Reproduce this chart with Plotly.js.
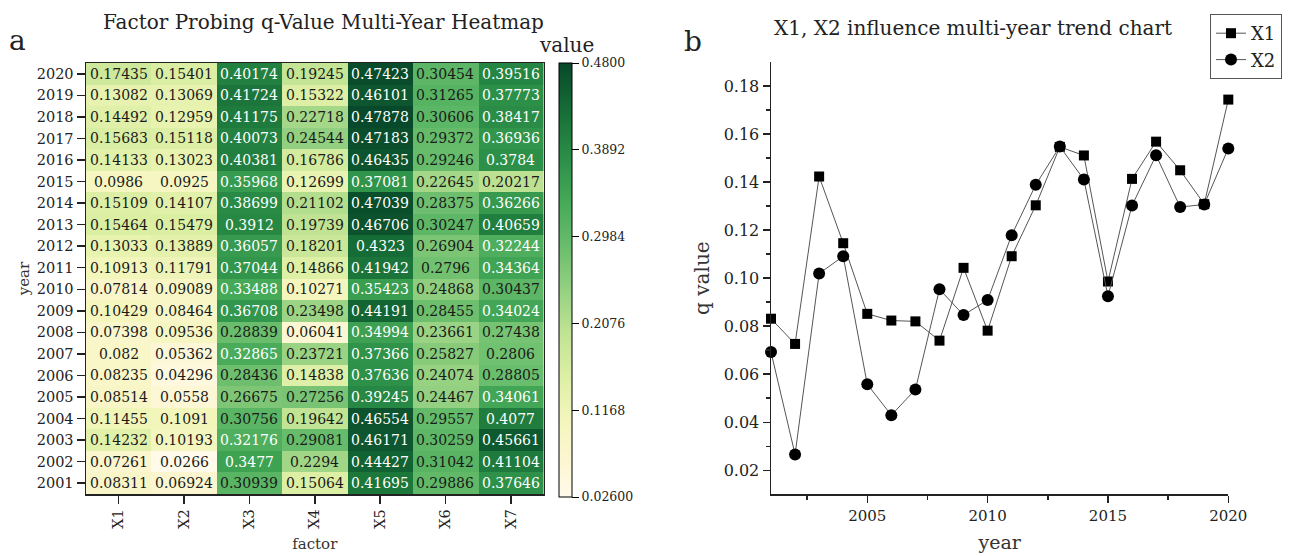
<!DOCTYPE html>
<html>
<head>
<meta charset="utf-8">
<script src="https://cdn.plot.ly/plotly-3.0.1.min.js"></script>
<style>html,body{margin:0;padding:0;background:#fff;}#chart{width:1293px;height:556px;}</style>
</head>
<body>
<div id="chart"></div>
<script>
// ---------- data ----------
const factors = ["X1","X2","X3","X4","X5","X6","X7"];
const years = [2001,2002,2003,2004,2005,2006,2007,2008,2009,2010,2011,2012,2013,2014,2015,2016,2017,2018,2019,2020];
const X1 = [0.08311,0.07261,0.14232,0.11455,0.08514,0.08235,0.082,0.07398,0.10429,0.07814,0.10913,0.13033,0.15464,0.15109,0.0986,0.14133,0.15683,0.14492,0.13082,0.17435];
const X2 = [0.06924,0.0266,0.10193,0.1091,0.0558,0.04296,0.05362,0.09536,0.08464,0.09089,0.11791,0.13889,0.15479,0.14107,0.0925,0.13023,0.15118,0.12959,0.13069,0.15401];
const X3 = [0.30939,0.3477,0.32176,0.30756,0.26675,0.28436,0.32865,0.28839,0.36708,0.33488,0.37044,0.36057,0.3912,0.38699,0.35968,0.40381,0.40073,0.41175,0.41724,0.40174];
const X4 = [0.15064,0.2294,0.29081,0.19642,0.27256,0.14838,0.23721,0.06041,0.23498,0.10271,0.14866,0.18201,0.19739,0.21102,0.12699,0.16786,0.24544,0.22718,0.15322,0.19245];
const X5 = [0.41695,0.44427,0.46171,0.46554,0.39245,0.37636,0.37366,0.34994,0.44191,0.35423,0.41942,0.4323,0.46706,0.47039,0.37081,0.46435,0.47183,0.47878,0.46101,0.47423];
const X6 = [0.29886,0.31042,0.30259,0.29557,0.24467,0.24074,0.25827,0.23661,0.28455,0.24868,0.2796,0.26904,0.30247,0.28375,0.22645,0.29246,0.29372,0.30606,0.31265,0.30454];
const X7 = [0.37646,0.41104,0.45661,0.4077,0.34061,0.28805,0.2806,0.27438,0.34024,0.30437,0.34364,0.32244,0.40659,0.36266,0.20217,0.3784,0.36936,0.38417,0.37773,0.39516];
const colorbarTickVals = [0.48,0.3892,0.2984,0.2076,0.1168,0.026];
const colorbarTickText = ["0.4800","0.3892","0.2984","0.2076","0.1168","0.02600"];

// ---------- helpers ----------
const W = 1293, H = 556;
const px = x => x / W;
const py = y => 1 - y / H;
const FONT = "DejaVu Serif, Liberation Serif, serif";

const columns = [X1,X2,X3,X4,X5,X6,X7];
const z = years.map((yr, i) => columns.map(c => c[i]));

const colorscale = [
  [0.00,'#fffaea'],[0.08,'#fdf6d2'],[0.18,'#f3f6bc'],[0.28,'#dcefa4'],
  [0.38,'#bfe393'],[0.48,'#94d081'],[0.58,'#68bd6c'],[0.68,'#45a958'],
  [0.78,'#2c8f48'],[0.88,'#187138'],[1.00,'#07482a']
];

const heat = {
  type: 'heatmap',
  x: factors, y: years, z: z,
  zmin: 0.026, zmax: 0.48,
  colorscale: colorscale,
  xaxis: 'x', yaxis: 'y',
  colorbar: {
    x: px(559), xanchor: 'left', xref: 'paper',
    y: py(497), yanchor: 'bottom', yref: 'paper',
    len: 434, lenmode: 'pixels',
    thickness: 13,
    outlinewidth: 1, outlinecolor: '#000',
    tickvals: colorbarTickVals, ticktext: colorbarTickText,
    ticks: 'outside', ticklen: 7, tickcolor: '#000',
    tickfont: {family: FONT, size: 12.5, color: '#222'},
    xpad: 0, ypad: 0
  }
};

const annotations = [];
years.forEach((yr, i) => {
  factors.forEach((f, j) => {
    const v = columns[j][i];
    annotations.push({
      x: f, y: yr, xref: 'x', yref: 'y', text: String(v), showarrow: false,
      xanchor: 'center', yanchor: 'middle',
      font: {family: FONT, size: 14, color: v >= 0.315 ? '#ffffff' : '#1a1a1a'}
    });
  });
});

function label(x, y, text, size) {
  annotations.push({xref:'paper', yref:'paper', x: px(x), y: py(y), text: text, showarrow:false,
    xanchor:'center', yanchor:'middle', font:{family:FONT, size:size, color:'#222'}});
}
label(17, 40, 'a', 28);
label(693, 42, 'b', 28);
label(323, 22, 'Factor Probing q-Value Multi-Year Heatmap', 20);
label(973, 28, 'X1, X2 influence multi-year trend chart', 20);
label(566, 45, 'value', 20);

const lineX1 = {
  type: 'scatter', mode: 'lines+markers', name: 'X1',
  x: years, y: X1, xaxis: 'x2', yaxis: 'y2',
  line: {color: '#555', width: 1},
  marker: {symbol: 'square', size: 10, color: '#000'},
  cliponaxis: false
};
const lineX2 = {
  type: 'scatter', mode: 'lines+markers', name: 'X2',
  x: years, y: X2, xaxis: 'x2', yaxis: 'y2',
  line: {color: '#555', width: 1},
  marker: {symbol: 'circle', size: 12, color: '#000'},
  cliponaxis: false
};

const layout = {
  width: W, height: H,
  margin: {l: 0, r: 0, t: 0, b: 0, autoexpand: false},
  paper_bgcolor: '#fff', plot_bgcolor: '#fff',
  font: {family: FONT, color: '#222'},
  showlegend: true,
  legend: {
    x: px(1210), y: py(14), xanchor: 'left', yanchor: 'top',
    bordercolor: '#555', borderwidth: 1, bgcolor: '#fff',
    font: {family: FONT, size: 18, color: '#222'},
    tracegroupgap: 0, itemwidth: 30
  },
  xaxis: {
    domain: [px(86), px(543.5)], anchor: 'y',
    type: 'category', range: [-0.5, 6.5],
    tickangle: -90, ticks: 'outside', ticklen: 8, tickwidth: 1.5, tickcolor: '#222',
    tickfont: {family: FONT, size: 14.5, color: '#222'},
    showline: true, linecolor: '#222', linewidth: 1.5, mirror: true,
    showgrid: false, zeroline: false,
    title: {text: 'factor', font: {family: FONT, size: 15, color: '#333'}, standoff: 10}
  },
  yaxis: {
    domain: [py(494), py(63)], anchor: 'x',
    range: [2000.5, 2020.5], tickmode: 'array', tickvals: years,
    ticks: 'outside', ticklen: 8, tickwidth: 1.5, tickcolor: '#222',
    tickfont: {family: FONT, size: 14.5, color: '#222'},
    showline: true, linecolor: '#222', linewidth: 1.5, mirror: true,
    showgrid: false, zeroline: false,
    title: {text: 'year', font: {family: FONT, size: 15, color: '#333'}, standoff: 3}
  },
  xaxis2: {
    domain: [px(771), px(1228.3)], anchor: 'y2',
    range: [2001, 2020], tickmode: 'array', tickvals: [2005, 2010, 2015, 2020],
    ticks: 'outside', ticklen: 7, tickwidth: 1.5, tickcolor: '#222',
    minor: {tickvals: [2002.5, 2007.5, 2012.5, 2017.5], ticks: 'outside', ticklen: 4, tickwidth: 1.5, tickcolor: '#222'},
    tickfont: {family: FONT, size: 15, color: '#222'},
    showline: true, linecolor: '#222', linewidth: 1.5,
    showgrid: false, zeroline: false,
    title: {text: 'year', font: {family: FONT, size: 19, color: '#333'}, standoff: 12}
  },
  yaxis2: {
    domain: [py(494.3), py(62)], anchor: 'x2',
    range: [0.01, 0.19], tickmode: 'array', tickvals: [0.02,0.04,0.06,0.08,0.10,0.12,0.14,0.16,0.18],
    ticktext: ['0.02','0.04','0.06','0.08','0.10','0.12','0.14','0.16','0.18'],
    ticks: 'outside', ticklen: 7, tickwidth: 1.5, tickcolor: '#222',
    minor: {tickvals: [0.03,0.05,0.07,0.09,0.11,0.13,0.15,0.17], ticks: 'outside', ticklen: 4, tickwidth: 1.5, tickcolor: '#222'},
    tickfont: {family: FONT, size: 16, color: '#222'},
    showline: true, linecolor: '#222', linewidth: 1.5,
    showgrid: false, zeroline: false,
    title: {text: 'q value', font: {family: FONT, size: 20, color: '#333'}, standoff: 8}
  },
  annotations: annotations
};

Plotly.newPlot('chart', [heat, lineX1, lineX2], layout, {displayModeBar: false, staticPlot: true});
</script>
</body>
</html>
